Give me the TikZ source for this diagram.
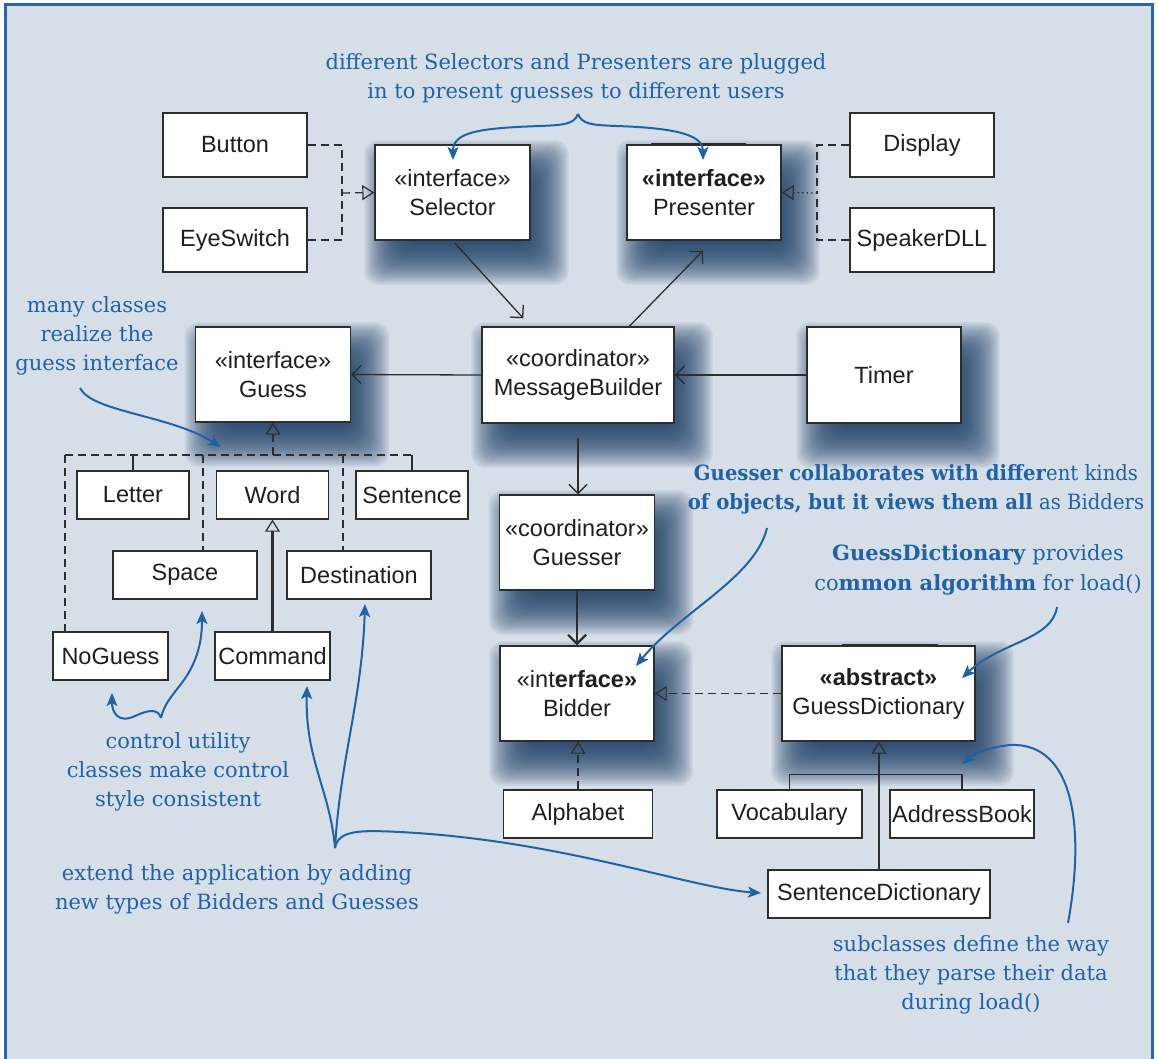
\documentclass[tikz,border=0pt]{standalone}
\usepackage{fontspec}
\newfontfamily\boxfont{Liberation Sans}
\newfontfamily\notefont{DejaVu Serif}
\newfontfamily\notefontc{DejaVu Serif}[FakeStretch=0.935]
\usetikzlibrary{arrows.meta,calc}
\definecolor{bgc}{RGB}{214,222,232}
\definecolor{framec}{RGB}{38,104,176}
\definecolor{notec}{RGB}{32,98,166}
\definecolor{shadc}{RGB}{30,62,102}
\definecolor{linec}{RGB}{45,45,45}
\pgfdeclarelayer{bglayer}
\pgfdeclarelayer{shadlayer}
\pgfsetlayers{bglayer,shadlayer,main}
\begin{document}
\begin{tikzpicture}[x=1pt,y=-1pt,
  cls/.style={draw=linec, line width=1.4pt, fill=white, inner sep=0pt, align=center,
    font=\boxfont\fontsize{23.5}{29}\selectfont, text=black!88},
  sz/.style 2 args={minimum width=#1pt, minimum height=#2pt},
  note/.style={inner sep=0pt, align=center, text=notec, font=\notefont\fontsize{21}{29}\selectfont},
  dsh/.style={draw=linec, line width=1.3pt, dash pattern=on 8pt off 5pt},
  con/.style={draw=linec, line width=1.3pt},
  arr/.style={con, -{Straight Barb[length=9pt,width=18pt]}},
  tri/.style={-{Triangle[open,length=12pt,width=15pt,line width=1.2pt]}},
  nar/.style={draw=notec, line width=2pt, -{Stealth[length=13pt,width=11pt,inset=3pt]}}
]
\useasboundingbox (0,0) rectangle (1158,1058);
\begin{pgfonlayer}{bglayer}
  \fill[white] (0,0) rectangle (1158,1058);
  \filldraw[fill=bgc, draw=framec, line width=3pt] (5.5,4.5) rectangle (1152.5,1075);
\end{pgfonlayer}

% ---------- classes ----------
\node[cls, sz={144}{64}] (button) at (235,145) {Button};
\node[cls, sz={144}{64}] (eyeswitch) at (235,240) {EyeSwitch};
\node[cls, sz={155}{95}, text depth=-2pt] (selector) at (452.5,192.5) {«interface»\\Selector};
\node[cls, sz={154}{95}] (presenter) at (704,192.5) {\textbf{«interface»}\\Presenter};
\node[cls, sz={144}{64}] (display) at (922,145) {Display};
\node[cls, sz={144}{64}] (speaker) at (922,240) {SpeakerDLL};
\node[cls, sz={155}{95}] (guess) at (273,374.5) {«interface»\\Guess};
\node[cls, sz={192}{96}] (mb) at (578,375) {«coordinator»\\MessageBuilder};
\node[cls, sz={154}{96}] (timer) at (884,375) {Timer};
\node[cls, sz={112}{48}] (letter) at (133,495) {Letter};
\node[cls, sz={112}{48}] (word) at (272.5,495) {Word};
\node[cls, sz={112}{48}] (sentence) at (412,495) {Sentence};
\node[cls, sz={144}{48}] (space) at (185,575) {Space};
\node[cls, sz={144}{48}] (destination) at (359,575) {Destination};
\node[cls, sz={115}{48}] (noguess) at (110.5,656) {NoGuess};
\node[cls, sz={115}{48}] (command) at (272.5,656) {Command};
\node[cls, sz={155}{95}] (guesser) at (577,542.5) {«coordinator»\\Guesser};
\node[cls, sz={154}{95}] (bidder) at (577,693.5) {«int\textbf{erface»}\\Bidder};
\node[cls, sz={193}{95}] (gd) at (878.5,693.5) {\textbf{«abstract»}\\GuessDictionary};
\node[cls, sz={149}{48}] (alphabet) at (578,814) {Alphabet};
\node[cls, sz={145}{48}] (voc) at (789.5,814) {Vocabulary};
\node[cls, sz={144}{48}] (ab) at (962,814) {AddressBook};
\node[cls, sz={222}{48}] (sd) at (879,894) {SentenceDictionary};

% thick top segments
\draw[linec, line width=3pt] ($(presenter.north west)+(25,0)$) -- ($(presenter.north west)+(120,0)$);
\draw[linec, line width=3pt] ($(gd.north west)+(61,0)$) -- ($(gd.north west)+(157,0)$);

% ---------- shadows ----------
\begin{pgfonlayer}{shadlayer}
\foreach \n in {selector,presenter,guess,mb,timer,guesser,bidder,gd}{
  \foreach \e in {24,22,...,-24}{
    \fill[shadc, opacity=0.085, rounded corners=14pt]
      ($(\n.north west)+({14-(\e)},{20-(\e)})$) rectangle ($(\n.south east)+({14+(\e)},{20+(\e)})$);
  }
}
\end{pgfonlayer}

% ---------- connectors ----------
\coordinate (bj) at (342,193);
\draw[dsh] (button.east) -| (bj);
\draw[dsh] (eyeswitch.east) -| (bj);
\draw[dsh, tri] (bj) -- (selector.west);

\coordinate (dj) at (817,193);
\draw[dsh] (display.west) -| (dj);
\draw[dsh] (speaker.west) -| (dj);
\draw[con, dash pattern=on 1.5pt off 3pt, tri] (dj) -- (presenter.east);

\coordinate (selout) at ($(selector.south)+(2,2)$);
\coordinate (mbin) at ($(mb.north west)+(42,-8)$);
\draw[arr] (selout) -- (mbin);
\coordinate (mbout) at ($(mb.north west)+(148,0)$);
\coordinate (prin) at ($(presenter.south)+(-1,10)$);
\draw[arr] (mbout) -- (prin);
\draw[arr] (mb.west) -- (guess.east);
\draw[arr] (timer.west) -- (mb.east);
\coordinate (mbdown) at ($(mb.south)+(0,14)$);
\draw[arr] (mbdown) -- (mbdown |- guesser.north);
\draw[arr, line width=2.2pt] (guesser.south) -- (bidder.north);

% Guess realizations
\coordinate (gb) at (273,455);
\coordinate (bl) at (65,455);
\coordinate (br) at (412,455);
\coordinate (bs) at (203,455);
\coordinate (bd) at (343,455);
\draw[dsh, tri] (gb) -- (guess.south);
\draw[dsh] (bl) -- (br);
\draw[dsh] (bl) -- (bl |- noguess.north);
\draw[con] (letter.north) -- (letter.north |- gb);
\draw[dsh] (bs) -- (bs |- space.north);
\draw[dsh] (bd) -- (bd |- destination.north);
\draw[con] (sentence.north) -- (br);
\draw[con, line width=2.4pt, tri] (command.north) -- (word.south);

% Bidder hierarchy
\draw[dsh, tri] (alphabet.north) -- (alphabet.north |- bidder.south);
\draw[dsh, tri] (gd.west) -- (bidder.east);
\draw[con, tri] (sd.north) -- (sd.north |- gd.south);
\draw[con] (voc.north) -- ++(0,-15) -| (ab.north);

% ---------- notes ----------
\node[note] (n1) at (576,78) {different Selectors and Presenters are plugged\\in to present guesses to different users};
\node[note] (n2) at (97,336) {many classes\\realize the\\guess interface};
\node[note, font=\notefontc\fontsize{21}{29}\selectfont] (n3) at (916,489) {\textbf{Guesser collaborates with differ}ent kinds\\\textbf{of objects, but it views them all} as Bidders};
\node[note, font=\notefont\fontsize{21}{30}\selectfont] (n4) at (978,570) {\textbf{GuessDictionary} provides\\co\textbf{mmon algorithm} for load()};
\node[note] (n5) at (178,772) {control utility\\classes make control\\style consistent};
\node[note] (n6) at (237,889.5) {extend the application by adding\\new types of Bidders and Guesses};
\node[note] (n7) at (971,975) {subclasses define the way\\that they parse their data\\during load()};

% note arrows
\coordinate (t1) at (578,114);
\coordinate (a1l) at (453,160);
\coordinate (a1r) at (703,160);
\draw[nar] (t1) .. controls (574,124) and (565,125) .. (540,126) .. controls (480,128) and (453,132) .. (a1l);
\draw[nar] (t1) .. controls (582,124) and (591,125) .. (616,126) .. controls (680,128) and (703,136) .. (a1r);

\coordinate (s2) at (80,388);
\coordinate (a2) at (221,447);
\draw[nar] (s2) .. controls (92,412) and (170,415) .. (a2);

\coordinate (s3) at (767,528);
\coordinate (a3) at (636,666);
\draw[nar] (s3) .. controls (755,578) and (680,612) .. (a3);

\coordinate (s4) at (1057,607);
\coordinate (a4) at (962,678);
\draw[nar] (s4) .. controls (1052,640) and (1000,642) .. (a4);

\coordinate (t5) at (161,718);
\coordinate (a5l) at (112,693);
\coordinate (a5r) at (202,611);
\draw[nar] (t5) .. controls (158,708) and (148,710) .. (135,716) .. controls (118,724) and (112,712) .. (a5l);
\draw[nar] (t5) .. controls (164,704) and (172,696) .. (184,680) .. controls (198,660) and (202,640) .. (a5r);

\coordinate (t6) at (335,848);
\coordinate (a6a) at (307,686);
\coordinate (a6b) at (365,604);
\coordinate (a6c) at (761,893);
\draw[nar] (t6) .. controls (330,790) and (305,760) .. (a6a);
\draw[nar] (t6) .. controls (340,760) and (362,700) .. (a6b);
\draw[nar] (t6) .. controls (338,830) and (360,830) .. (400,832) .. controls (560,840) and (690,888) .. (a6c);

\coordinate (s7) at (1068,923);
\coordinate (a7) at (962,764);
\draw[nar] (s7) .. controls (1085,830) and (1075,742) .. (1010,745) .. controls (990,747) and (975,753) .. (a7);
\end{tikzpicture}
\end{document}
